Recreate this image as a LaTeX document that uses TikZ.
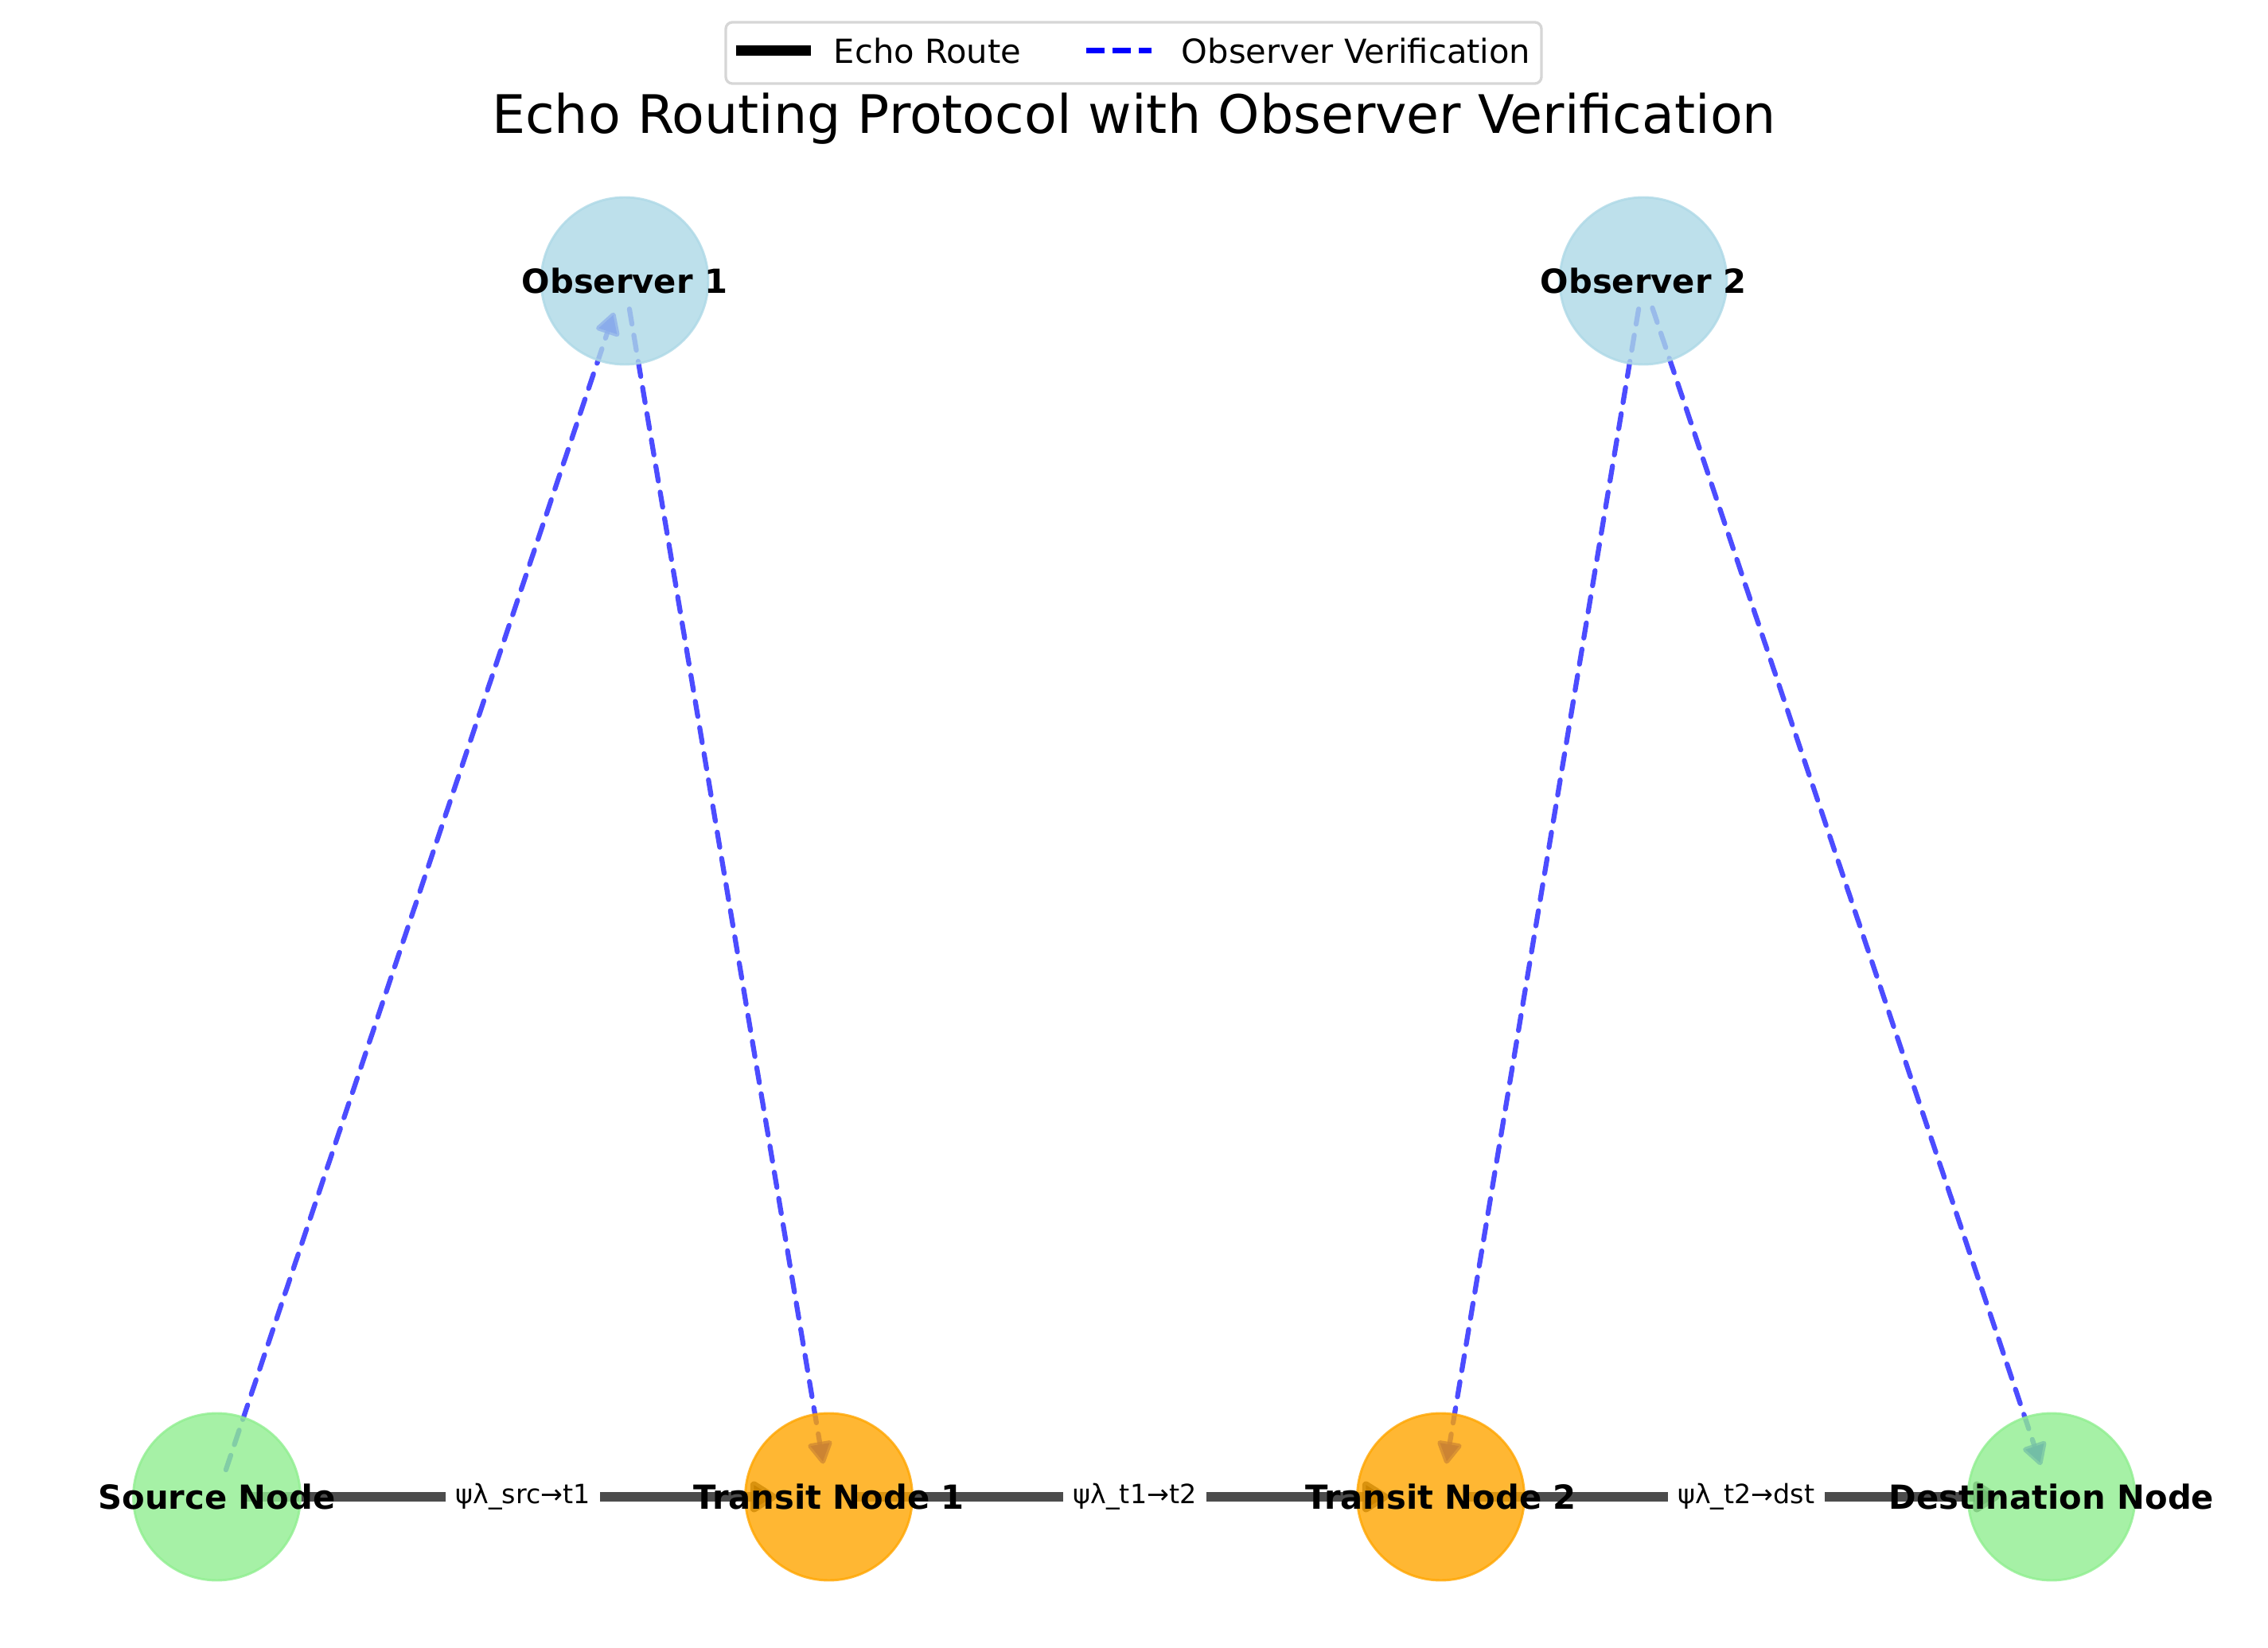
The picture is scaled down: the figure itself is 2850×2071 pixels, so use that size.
\documentclass[tikz,border=0pt]{standalone}
\usepackage{fontspec}
\setmainfont{DejaVu Sans}
\usetikzlibrary{arrows.meta,calc}
\pgfdeclarelayer{background}
\pgfsetlayers{background,main}
\definecolor{obsblue}{HTML}{ADD8E6}
\definecolor{lgreen}{HTML}{90EE90}
\definecolor{orng}{HTML}{FFA500}
\definecolor{legframe}{HTML}{D6D6D6}
\begin{document}
\begin{tikzpicture}[x=0.24pt,y=-0.24pt,
  netnode/.style={circle, minimum size=50.4pt, inner sep=0pt, fill opacity=0.8, draw opacity=0.8, line width=0.7pt},
  nodelabel/.style={font=\fontsize{10}{12}\bfseries\selectfont, text=black, text opacity=1, fill opacity=1, draw=none, fill=none, inner sep=0pt},
  echo/.style={draw=black, draw opacity=0.7, line width=3pt, -{Triangle[length=9pt,width=10.5pt,round]}, shorten <=8.6pt, shorten >=15.8pt},
  verif/.style={draw=blue, draw opacity=0.7, line width=1.5pt, dash pattern=on 4.6pt off 3.4pt, line cap=round, -{Triangle[length=7.5pt,width=8pt,round]}, shorten <=8.6pt, shorten >=10.1pt},
  elabel/.style={fill=white, font=\fontsize{8}{10}\selectfont, inner xsep=3pt, inner ysep=2pt},
  legtext/.style={anchor=base west, font=\fontsize{10}{12}\selectfont, inner sep=0pt},
]
\useasboundingbox (0,0) rectangle (2850,2071);

% title
\node[font=\fontsize{16}{19}\selectfont, anchor=base, inner sep=0pt] (title) at (1425,168) {Echo Routing Protocol with Observer Verification};

% legend
\node[draw=legframe, line width=0.8pt, rounded corners=2pt, fill=white, minimum width=246pt, minimum height=18.5pt, inner sep=0pt] (legend) at (1424.5,66.5) {};
\coordinate (l1a) at (924.5,63.5);
\coordinate (l1b) at (1019,63.5);
\draw[black, line width=3pt] (l1a) -- (l1b);
\node[legtext] (l1t) at (1047,79.3) {Echo Route};
\coordinate (l2a) at (1365,63.5);
\coordinate (l2b) at (1447,63.5);
\draw[blue, line width=1.5pt, dash pattern=on 5.55pt off 2.4pt] (l2a) -- (l2b);
\node[legtext] (l2t) at (1484,79.3) {Observer Verification};

% nodes
\node[netnode, fill=lgreen, draw=lgreen, label={[nodelabel]center:Source Node}] (S) at (272.5,1881) {};
\node[netnode, fill=orng, draw=orng, label={[nodelabel]center:Transit Node 1}] (T1) at (1041.5,1881) {};
\node[netnode, fill=orng, draw=orng, label={[nodelabel]center:Transit Node 2}] (T2) at (1810.5,1881) {};
\node[netnode, fill=lgreen, draw=lgreen, label={[nodelabel]center:Destination Node}] (D) at (2578,1881) {};
\node[netnode, fill=obsblue, draw=obsblue, label={[nodelabel]center:Observer 1}] (O1) at (785,353) {};
\node[netnode, fill=obsblue, draw=obsblue, label={[nodelabel]center:Observer 2}] (O2) at (2065,353) {};

% connectors
\begin{pgfonlayer}{background}
\draw[echo] (S.center) -- (T1.center);
\node[elabel] (e1) at ($(S.center)!0.5!(T1.center)$) {ψλ\_src→t1};
\draw[echo] (T1.center) -- (T2.center);
\node[elabel] (e2) at ($(T1.center)!0.5!(T2.center)$) {ψλ\_t1→t2};
\draw[echo] (T2.center) -- (D.center);
\node[elabel] (e3) at ($(T2.center)!0.5!(D.center)$) {ψλ\_t2→dst};
\draw[verif] (S.center) -- (O1.center);
\draw[verif] (O1.center) -- (T1.center);
\draw[verif] (O2.center) -- (T2.center);
\draw[verif] (O2.center) -- (D.center);
\end{pgfonlayer}
\end{tikzpicture}
\end{document}
